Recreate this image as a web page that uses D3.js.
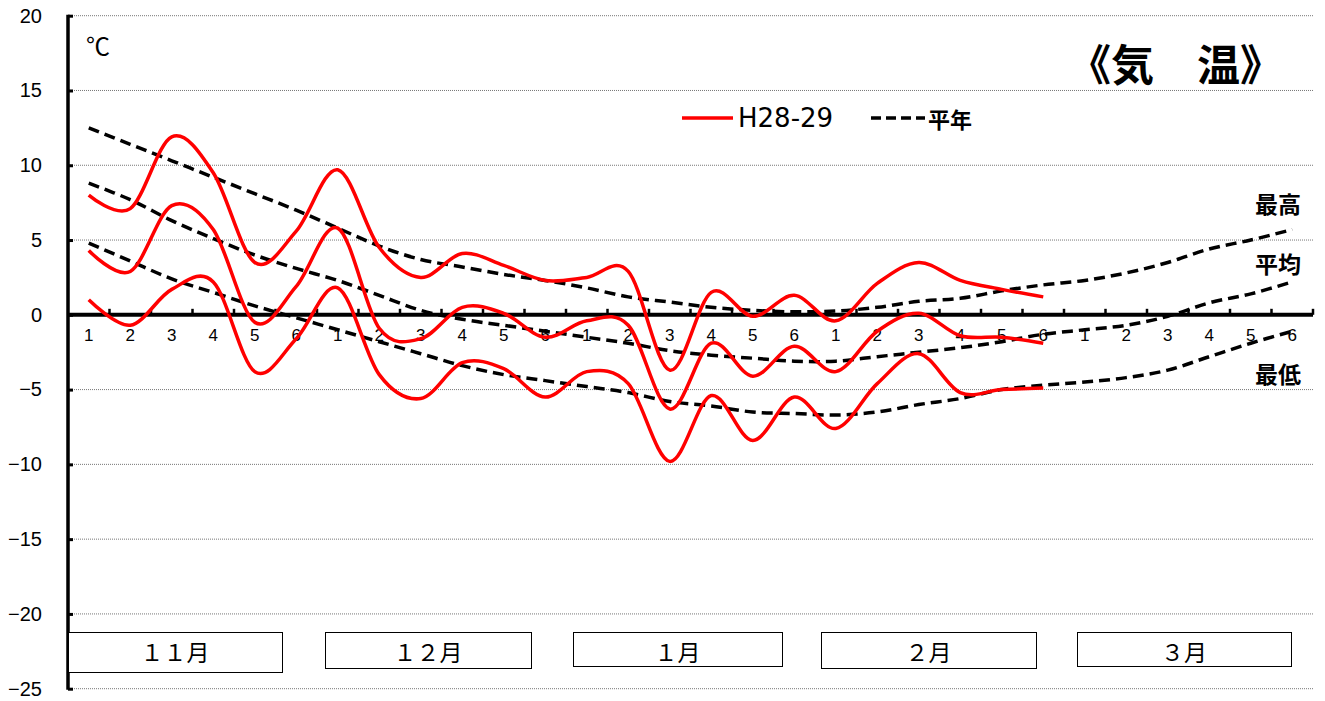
<!DOCTYPE html>
<html><head><meta charset="utf-8">
<script src="https://cdn.jsdelivr.net/npm/d3@7/dist/d3.min.js"></script>
<style>body{margin:0;background:#fff}svg{display:block}</style>
</head><body>
<svg id="c" width="1325" height="701"></svg>
<script>
// ---- data ----
const monthNames = ["１１月","１２月","１月","２月","３月"];
const pentadLabels = ["1","2","3","4","5","6"];
const yTicks = [20,15,10,5,0,-5,-10,-15,-20,-25];
// H28-29 observed (Nov 1st pentad .. Feb 6th pentad)
const obsMax = [8.0,7.1,11.9,9.5,3.5,5.6, 9.7,4.5,2.5,4.1,3.3,2.3, 2.5,2.9,-3.7,1.5,-0.1,1.3, -0.4,2.1,3.5,2.3,1.7,1.2];
const obsAvg = [4.3,2.9,7.3,5.7,-0.5,1.9, 5.8,-0.9,-1.6,0.5,0.1,-1.5, -0.4,-0.7,-6.3,-1.9,-4.1,-2.1, -3.8,-1.1,0.1,-1.4,-1.5,-1.9];
const obsMin = [1.0,-0.7,1.7,2.2,-3.8,-1.6, 1.8,-4.0,-5.6,-3.2,-3.6,-5.5, -3.8,-4.6,-9.8,-5.4,-8.4,-5.5, -7.6,-4.6,-2.6,-5.2,-5.0,-4.9];
// normals (Nov 1st pentad .. Mar 6th pentad)
const normMax = [12.5,11.4,10.3,9.2,8.1,7.0, 5.8,4.6,3.7,3.2,2.7,2.3, 1.8,1.2,0.85,0.5,0.3,0.2, 0.25,0.5,0.9,1.1,1.6,2.0, 2.3,2.8,3.5,4.4,5.0,5.7];
const normAvg = [8.8,7.7,6.3,5.1,4.0,3.1, 2.3,1.3,0.3,-0.3,-0.7,-1.1, -1.5,-1.9,-2.4,-2.7,-2.9,-3.1, -3.1,-2.8,-2.5,-2.2,-1.8,-1.3, -1.0,-0.7,-0.1,0.8,1.4,2.2];
const normMin = [4.8,3.6,2.4,1.5,0.6,-0.2, -1.0,-1.8,-2.6,-3.4,-4.0,-4.4, -4.8,-5.2,-5.8,-6.1,-6.5,-6.6, -6.7,-6.5,-6.0,-5.6,-5.0,-4.7, -4.5,-4.2,-3.7,-2.8,-1.9,-1.1];
const seriesLabels = ["最高","平均","最低"];
const legendNames = ["H28-29","平年"];
const titleText = "《気　温》";
const unitText = "℃";

// ---- setup ----
const svg = d3.select("#c");
const L = 68, R = 1313, T = 15.7, B = 688.7;
const cats = [];
monthNames.forEach((m,mi)=>pentadLabels.forEach(p=>cats.push(mi+"-"+p)));
const x = d3.scaleBand().domain(cats).range([L,R]).padding(0);
const y = d3.scaleLinear().domain([-25,20]).range([B,T]);
const cx = i => x(cats[i]) + x.bandwidth()/2;
const NUMF = "'Liberation Sans', Arial, sans-serif";
const CJK = "'Noto Sans CJK JP', 'Noto Sans', sans-serif";

// gridlines
svg.append("g").selectAll("line").data(yTicks.filter(d=>d!==0)).join("line")
  .attr("x1",L).attr("x2",R).attr("y1",d=>y(d)).attr("y2",d=>y(d))
  .attr("stroke","#777").attr("stroke-width",1).attr("stroke-dasharray","1,1");

// y axis
const yAxis = svg.append("g").attr("transform",`translate(${L},0)`)
  .call(d3.axisLeft(y).tickValues(yTicks).tickSize(-5).tickPadding(26)
    .tickFormat(d=> d<0 ? "\u2212"+Math.abs(d) : String(d)));
yAxis.select(".domain").remove();
yAxis.selectAll(".tick line").attr("stroke","#000").attr("stroke-width",3);
yAxis.selectAll("text").attr("font-family",NUMF).attr("font-size",20).attr("fill","#000");
svg.append("line").attr("x1",L).attr("x2",L).attr("y1",T-1).attr("y2",B+1)
  .attr("stroke","#000").attr("stroke-width",3.5);

// month boxes
const boxes = [
  {m:0,x0:68,x1:282,y0:632,y1:672},
  {m:1,x0:325,x1:531,y0:632,y1:668},
  {m:2,x0:573,x1:782,y0:632,y1:666},
  {m:3,x0:821,x1:1036,y0:632,y1:668},
  {m:4,x0:1077,x1:1291,y0:632,y1:666}];
const bg = svg.append("g");
bg.selectAll("rect").data(boxes).join("rect")
  .attr("x",d=>d.x0+0.5).attr("y",d=>d.y0+0.5).attr("width",d=>d.x1-d.x0).attr("height",d=>d.y1-d.y0)
  .attr("fill","#fff").attr("stroke","#000").attr("stroke-width",1);
bg.selectAll("text").data(boxes).join("text")
  .attr("x",d=>(d.x0+d.x1)/2).attr("y",651).attr("text-anchor","middle").attr("dominant-baseline","central")
  .attr("font-family",CJK).attr("font-size",23).attr("fill","#000").text(d=>monthNames[d.m]);

// x axis (zero line)
const y0 = y(0);
const xAxis = svg.append("g").attr("transform",`translate(0,${y0})`)
  .call(d3.axisBottom(x).tickSize(0).tickPadding(14).tickFormat(d=>d.split("-")[1]));
xAxis.select(".domain").remove();
xAxis.selectAll("text").attr("font-family",NUMF).attr("font-size",17).attr("fill","#000");
const bounds = cats.slice(1).map(c=>x(c)).concat([x.range()[1]]);
svg.append("g").selectAll("line").data(bounds).join("line")
  .attr("x1",d=>d).attr("x2",d=>d).attr("y1",y0).attr("y2",y0-6)
  .attr("stroke","#000").attr("stroke-width",2.5);
svg.append("line").attr("x1",L).attr("x2",R).attr("y1",y0).attr("y2",y0)
  .attr("stroke","#000").attr("stroke-width",4);

// lines
const line = d3.line().x((d,i)=>cx(i)).y(d=>y(d)).curve(d3.curveCardinal.tension(0));
[normMax,normAvg,normMin].forEach(s=>{
  svg.append("path").attr("d",line(s)).attr("fill","none").attr("stroke","#000")
    .attr("stroke-width",3.5).attr("stroke-dasharray","11,6");
});
[obsMax,obsAvg,obsMin].forEach(s=>{
  svg.append("path").attr("d",line(s)).attr("fill","none").attr("stroke","#f00")
    .attr("stroke-width",3.5);
});

// series labels
const labPos = [{t:0,y:203},{t:1,y:263},{t:2,y:373}];
svg.append("g").selectAll("text").data(labPos).join("text")
  .attr("x",1278).attr("y",d=>d.y).attr("text-anchor","middle").attr("dominant-baseline","central")
  .attr("font-family",CJK).attr("font-weight","bold").attr("font-size",23).attr("fill","#000")
  .text(d=>seriesLabels[d.t]);

// legend
svg.append("line").attr("x1",682).attr("x2",733).attr("y1",118).attr("y2",118)
  .attr("stroke","#f00").attr("stroke-width",3.5);
svg.append("text").attr("x",738).attr("y",118).attr("dominant-baseline","central")
  .attr("font-family","'DejaVu Sans', sans-serif").attr("font-size",26).attr("fill","#000").text(legendNames[0]);
svg.append("line").attr("x1",871).attr("x2",925).attr("y1",118).attr("y2",118)
  .attr("stroke","#000").attr("stroke-width",3.5).attr("stroke-dasharray","10,5");
svg.append("text").attr("x",928).attr("y",118).attr("dominant-baseline","central")
  .attr("font-family",CJK).attr("font-weight","bold").attr("font-size",22).attr("fill","#000").text(legendNames[1]);

// title & unit
svg.append("text").attr("x",1068).attr("y",62).attr("dominant-baseline","central")
  .attr("font-family",CJK).attr("font-weight","bold").attr("font-size",43).attr("fill","#000").text(titleText);
svg.append("text").attr("x",86).attr("y",44).attr("dominant-baseline","central")
  .attr("font-family",CJK).attr("font-size",24).attr("fill","#000").text(unitText);
</script>
</body></html>
